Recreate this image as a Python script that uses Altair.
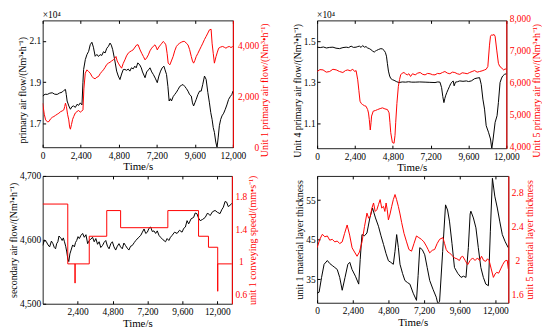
import altair as alt
import pandas as pd

FONT = "Liberation Serif"
RED = "#ff0000"

# ---------------- Panel 1 ----------------
p1_black_t = [0,150,292,450,604,760,917,1070,1229,1330,1437,1490,1542,1650,1750,1850,1958,2060,2167,2270,2375,2479,2540,2583,2690,2792,2900,3000,3104,3200,3312,3420,3520,3625,3730,3837,3937,4046,4146,4250,4330,4417,4540,4667,4770,4875,4980,5087,5187,5290,5400,5500,5600,5712,5812,5900,6000,6125,6220,6300,6458,6560,6671,6771,6880,6979,7100,7229,7330,7437,7540,7646,7720,7812,7900,7979,8060,8125,8230,8333,8440,8542,8650,8754,8854,8960,9060,9167,9270,9375,9450,9521,9600,9687,9790,9900,10000,10100,10208,10312,10420,10521,10604,10687,10760,10833,10920,11000,11070,11146,11230,11312,11420,11521,11620,11729,11830,11937,12000]
p1_black_v = [18330,18420,18410,18470,18490,18420,18410,18480,18520,18600,18650,18400,18090,17850,17690,17820,17850,17780,17930,17880,18000,17900,19000,19620,20100,20340,20500,20820,20940,20700,20260,20350,20250,20340,20300,20480,20420,20650,20740,20900,20800,20580,20100,19540,19300,19130,19400,19620,19620,19580,19640,19540,19700,19650,19780,19700,19940,19840,19700,19500,19220,19500,19600,19700,19500,19380,19200,18980,19300,19540,19700,19780,19600,19380,18800,18090,18200,18090,18300,18410,18520,18650,18800,18850,18890,18800,18700,18570,18400,18330,18000,17850,18000,18170,18400,18570,18570,18900,19300,19140,18500,18000,17530,17200,16800,16570,16100,15840,16300,16890,17200,17370,17500,17690,17900,18170,18300,18410,18570]
p1_red_t = [0,100,187,300,396,500,610,708,820,920,1021,1130,1230,1333,1390,1437,1500,1570,1646,1700,1750,1820,1890,1958,2060,2167,2270,2375,2460,2541,2600,2687,2792,2900,3000,3100,3208,3310,3420,3521,3630,3733,3833,3940,4040,4146,4250,4350,4458,4540,4625,4700,4771,4880,4979,5080,5187,5290,5396,5500,5600,5708,5830,5937,6021,6146,6250,6354,6458,6560,6667,6770,6875,6980,7083,7160,7229,7330,7437,7520,7604,7690,7771,7850,7917,8021,8120,8229,8330,8437,8540,8646,8750,8858,8958,9060,9167,9270,9375,9450,9521,9600,9687,9790,9896,10000,10104,10210,10312,10420,10521,10625,10687,10760,10833,10937,11020,11104,11230,11354,11460,11562,11670,11771,11880,12000]
p1_red_v = [1736,1300,1077,1000,1012,1120,1180,1210,1260,1300,1341,1400,1430,1472,1600,1736,1600,1300,1077,800,710,900,1100,1210,1350,1407,1450,1380,1420,1472,2300,2919,3050,2980,2919,2800,2722,2700,2760,2787,2900,2980,3050,3150,3260,3314,3350,3400,3444,3500,3576,3400,3314,3200,3116,3300,3444,3600,3708,3760,3800,3838,3950,4036,4036,3838,3700,3576,3444,3520,3641,3800,3905,3980,4036,3950,3838,3950,4036,4100,4170,4120,4036,3700,3314,3247,3400,3576,3800,3972,4050,4103,4140,4170,4170,4100,4036,3850,3576,3400,3314,3420,3576,3700,3838,3970,4103,4250,4367,4500,4627,4650,4103,3700,3314,3576,3750,3905,3950,3972,3940,3905,3950,3972,3930,3972]

# ---------------- Panel 2 ----------------
p2_black_t = [0,200,400,587,800,1005,1200,1424,1640,1843,2000,2157,2300,2471,2580,2680,2790,2890,2995,3100,3204,3310,3413,3520,3623,3700,3770,3900,4042,4150,4251,4330,4398,4460,4524,4600,4670,4780,4880,5050,5194,5400,5613,5800,6000,6220,6500,6848,7150,7477,7650,7791,7895,7970,8042,8100,8147,8230,8314,8400,8482,8560,8628,8691,8775,8900,9047,9250,9466,9600,9780,9990,10150,10304,10408,10513,10618,10722,10869,10995,11078,11162,11288,11413,11497,11602,11700,11769,11880,12000]
p2_black_v = [14710,14690,14720,14670,14700,14710,14660,14640,14690,14710,14690,14760,14700,14710,14740,14760,14700,14790,14710,14740,14670,14640,14590,14520,14470,14520,14550,14600,14640,14620,14550,14450,14270,13900,13540,13300,13180,13120,13090,13020,12980,13010,13000,13020,13000,13000,13010,13000,12990,12980,13010,13000,12730,12300,12000,12200,12330,12500,12650,12800,12940,13000,13060,12820,13000,13020,13060,13040,13060,13030,13060,13170,13200,13220,12890,12170,11680,10870,10550,10220,9740,10220,11030,11360,12000,12980,13200,13300,13380,13410]
p2_red_t = [0,180,377,580,796,1000,1215,1420,1634,1800,1948,2100,2262,2380,2471,2576,2650,2722,2800,2890,3000,3100,3204,3260,3309,3372,3420,3455,3560,3700,3832,4000,4146,4300,4461,4565,4620,4670,4775,4880,4940,4984,5060,5152,5230,5299,5400,5508,5600,5718,5820,5927,6050,6220,6380,6534,6700,6848,7000,7162,7320,7477,7630,7791,7950,8105,8260,8419,8580,8733,8890,9047,9200,9361,9520,9675,9830,9990,10150,10304,10460,10618,10720,10827,10932,10995,11070,11141,11220,11288,11392,11497,11580,11665,11750,11832,11920,12000]
p2_red_v = [6400,6460,6450,6380,6400,6470,6450,6400,6369,6430,6450,6420,6471,6400,6430,6140,5800,5470,5400,5364,5330,5314,5209,5100,4899,4570,4800,5005,5160,5180,5209,5240,5262,5230,5209,5107,4800,4487,4177,4155,4400,4797,5400,5935,6150,6295,6350,6369,6330,6295,6330,6245,6330,6295,6350,6369,6310,6295,6340,6330,6300,6295,6340,6330,6370,6400,6350,6330,6380,6369,6330,6310,6360,6347,6330,6369,6400,6430,6380,6400,6420,6450,6470,6555,7225,7504,7550,7535,7560,7504,7070,6657,6560,6533,6480,6450,6480,6471]

# ---------------- Panel 3 ----------------
p3_black_t = [0,120,250,370,477,600,704,800,885,960,1044,1120,1203,1270,1339,1420,1498,1580,1657,1730,1793,1870,1952,2060,2178,2260,2337,2430,2519,2630,2746,2860,2973,3090,3200,3310,3426,3540,3653,3770,3880,3990,4107,4220,4334,4450,4561,4680,4788,4900,5015,5130,5242,5350,5469,5580,5696,5810,5922,6040,6149,6300,6398,6560,6738,6850,6965,7080,7192,7300,7419,7530,7646,7760,7873,7990,8100,8270,8440,8550,8667,8780,8894,9060,9234,9400,9575,9690,9802,9920,10029,10200,10369,10480,10596,10710,10823,10990,11163,11330,11504,11670,11844,12010,12185,12300,12411,12530,12638,12750,12865,13000]
p3_black_v = [4591,4600,4597,4592,4589,4598,4594,4588,4586,4594,4597,4606,4604,4602,4599,4603,4597,4590,4581,4570,4566,4578,4584,4592,4589,4596,4599,4605,4602,4607,4610,4604,4608,4594,4599,4601,4604,4597,4602,4593,4597,4588,4591,4596,4599,4590,4586,4594,4597,4589,4584,4590,4594,4589,4586,4595,4591,4587,4584,4590,4591,4596,4599,4603,4607,4612,4617,4610,4612,4618,4620,4613,4614,4610,4614,4607,4604,4600,4597,4602,4599,4604,4607,4612,4610,4615,4612,4618,4620,4630,4625,4633,4635,4642,4641,4634,4630,4632,4635,4642,4638,4644,4646,4643,4641,4647,4651,4660,4659,4652,4654,4657]
p3_red_t = [0,1724,1724,2224,2224,2224,3200,3200,4401,4401,5355,5355,8599,8599,10709,10709,11390,11390,12025,12025,12025,13000]
p3_red_v = [1.71,1.71,0.976,0.976,0.74,0.976,0.976,1.315,1.315,1.63,1.63,1.42,1.42,1.63,1.63,1.315,1.315,1.18,1.18,0.64,0.976,0.976]

# ---------------- Panel 4 ----------------
p4_black_t = [0,133,300,470,690,850,1020,1190,1355,1520,1690,1880,2070,2200,2350,2580,2800,2900,3020,3190,3355,3550,3730,3930,4130,4300,4470,4640,4800,4960,5130,5240,5355,5470,5580,5750,5910,6080,6245,6470,6690,6800,6910,7080,7245,7410,7580,7800,8020,8130,8245,8450,8645,8780,8910,9080,9245,9470,9690,9850,10020,10180,10300,10350,10520,10690,10850,11020,11190,11355,11530,11660,11800,11960,12130,12300,12465,12660,12865]
p4_black_v = [31.5,31.75,35.5,38.8,39.75,39,38.5,38.0,37.5,35.5,32.25,35.5,38.8,39.3,37.5,35.8,33.8,40,46.3,46,46.7,50.5,53,50.5,48.4,46,43.8,41.5,39.7,39.3,38.8,42,46.3,43,38.8,36.5,34.7,34.2,33.8,31.5,29.7,36,43,42.5,41.2,38,34.7,32.5,30.5,28.8,29.5,42,53.8,52.5,49.7,44,38,36.5,35.5,35.8,35.5,43,51.5,52.2,50.5,48,43,38,35.5,33.8,33.4,47,60.5,56,53,49.5,46.3,44.5,43]
p4_red_t = [0,180,355,520,689,850,1022,1190,1355,1520,1689,1850,2022,2190,2356,2520,2689,2850,3022,3190,3356,3470,3578,3690,3800,3910,4022,4130,4244,4350,4467,4560,4644,4720,4800,4910,5022,5130,5244,5350,5467,5580,5689,5850,6022,6180,6356,6520,6689,6850,7022,7190,7355,7470,7577,7750,7911,8080,8244,8466,8580,8688,8800,8911,9080,9244,9410,9577,9690,9800,9970,10133,10300,10466,10630,10799,10930,11066,11210,11355,11470,11577,11720,11866,11980,12088,12220,12355,12490,12622,12720,12800,12870]
p4_red_v = [2.15,2.25,2.31,2.28,2.29,2.24,2.25,2.22,2.23,2.2,2.22,2.32,2.42,2.3,2.15,2.1,2.05,2.1,2.22,2.4,2.56,2.5,2.52,2.62,2.68,2.58,2.60,2.66,2.72,2.62,2.64,2.58,2.68,2.6,2.48,2.55,2.64,2.72,2.78,2.72,2.64,2.55,2.45,2.32,2.22,2.13,2.11,2.2,2.29,2.27,2.25,2.22,2.17,2.13,2.09,2.12,2.13,2.2,2.25,2.27,2.2,2.13,2.1,2.09,2.06,2.03,2.02,2.0,2.04,2.05,2.0,1.95,2.0,2.03,2.0,2.03,2.0,2.05,2.0,1.99,2.02,2.0,1.9,1.8,1.84,1.86,1.85,1.90,1.95,1.99,2.0,2.0,1.9]

X_TICKS = [0, 2400, 4800, 7200, 9600, 12000]
X_TICKS_NO0 = [2400, 4800, 7200, 9600, 12000]


def panel(bt, bv, rt, rv, w, h, xdom, xticks, ldom, lticks, lfmt, lexpr, ltitle,
          rdom, rticks, rfmt, rtitle, ralign, rpad, roff=0, tshift=0, sci=False,
          red_order=False):
    dfb = pd.DataFrame({"t": bt, "v": bv})
    dfr = pd.DataFrame({"t": rt, "v": rv, "i": list(range(len(rt)))})
    xscale = alt.Scale(domain=xdom, nice=False, zero=False)

    laxis = dict(values=lticks, title=ltitle, orient="left", labelOverlap=False,
                 offset=-3, ticks=True, tickSize=3, domain=False, tickColor="black",
                 titleY=h / 2 + tshift)
    if lexpr:
        laxis["labelExpr"] = lexpr
    else:
        laxis["format"] = lfmt
    black = alt.Chart(dfb).mark_line(color="black", strokeWidth=1, clip=True).encode(
        x=alt.X("t:Q", scale=xscale,
                axis=alt.Axis(values=xticks, format=",d", title="Time/s", labelOverlap=False,
                              labelFlush=False, offset=-3, ticks=True, tickSize=3,
                              labelPadding=3, domain=False, tickColor="black",
                              titleFontSize=11)),
        y=alt.Y("v:Q", scale=alt.Scale(domain=ldom, nice=False, zero=False),
                axis=alt.Axis(**laxis)),
    )
    renc = dict(
        x=alt.X("t:Q", scale=xscale,
                axis=alt.Axis(values=xticks, orient="top", labels=False, title=None,
                              offset=-3, ticks=True, tickSize=3, domain=False,
                              tickColor="black")),
        y=alt.Y("v:Q", scale=alt.Scale(domain=rdom, nice=False, zero=False),
                axis=alt.Axis(values=rticks, format=rfmt, title=rtitle, orient="right",
                              labelOverlap=False, tickSize=0, labelAlign=ralign,
                              labelPadding=rpad, labelOffset=roff,
                              domainColor=RED, labelColor=RED, titleColor=RED,
                              titleAngle=270, titleBaseline="top",
                              titleY=h / 2 + tshift)),
    )
    if red_order:
        renc["order"] = alt.Order("i:Q")
    red = alt.Chart(dfr).mark_line(color=RED, strokeWidth=1, clip=True).encode(**renc)
    layers = [black, red]
    if sci:
        txt = alt.Chart(pd.DataFrame({"s": ["×10⁴"]})).mark_text(
            align="left", baseline="middle", font=FONT, fontSize=9.5, color="black"
        ).encode(text="s:N", x=alt.value(0), y=alt.value(-5))
        layers.append(txt)
    return (alt.layer(*layers).resolve_scale(y="independent")
            .resolve_axis(x="independent").properties(width=w, height=h))


p1 = panel(p1_black_t, p1_black_v, p1_red_t, p1_red_v, 192, 128, [0, 12000], X_TICKS,
           [15850, 22000], [17000, 19000, 21000], None, "format(datum.value/10000, '.1f')",
           "primary air flow/(Nm³•h⁻¹)", [0, 5000], [0, 2000, 4000], ",d",
           "Unit 1 primary air flow/(Nm³•h⁻¹)", "right", 26, tshift=6, sci=True)
p2 = panel(p2_black_t, p2_black_v, p2_red_t, p2_red_v, 191, 129, [0, 12000], X_TICKS,
           [9770, 16020], [11000, 13000, 15000], None, "format(datum.value/10000, '.1f')",
           "Unit 4 primary air flow/(Nm³•h⁻¹)", [4000, 8000], [4000, 5000, 6000, 7000, 8000], ",d",
           "Unit 5 primary air flow/(Nm³•h⁻¹)", "left", 3, roff=-2, tshift=6, sci=True)
p3 = panel(p3_black_t, p3_black_v, p3_red_t, p3_red_v, 191, 129, [0, 13000], X_TICKS_NO0,
           [4500, 4700], [4500, 4600, 4700], ",d", None,
           "secondary air flow/(Nm³•h⁻¹)", [0.487, 2.055], [0.6, 1, 1.4, 1.8], "~g",
           "unit 1 conveying speed/(mm•s⁻¹)", "center", 9, red_order=True)
p4 = panel(p4_black_t, p4_black_v, p4_red_t, p4_red_v, 193, 128, [0, 12870], X_TICKS,
           [29.1, 61.1], [35, 45, 55], "d", None,
           "unit 1 material layer thickness", [1.5, 3.0], [1.6, 2, 2.4, 2.8], "~g",
           "unit 5 material layer thickness", "center", 9)

chart = alt.concat(p1, p2, p3, p4, columns=2, spacing=alt.RowColnumber(row=28, column=85),
                   bounds="flush").properties(
    padding={"left": 0, "top": 0, "right": 0, "bottom": 0}, background="white"
).configure_view(stroke="#222", strokeWidth=1).configure_axis(
    grid=False, ticks=False, labelFont=FONT, titleFont=FONT, labelFontSize=9.5,
    titleFontSize=10, titleFontWeight="normal", labelColor="black", titleColor="black",
    domainColor="black", domainWidth=1, labelPadding=2, titlePadding=1,
)

chart.save("out.html", embed_options={"renderer": "svg", "actions": False})
